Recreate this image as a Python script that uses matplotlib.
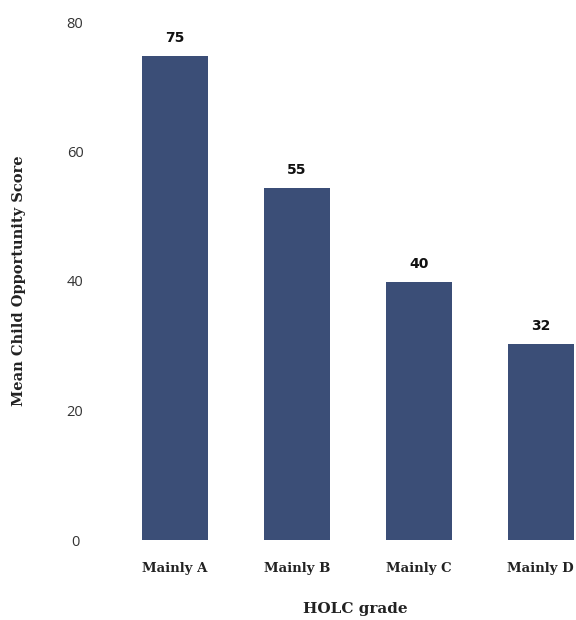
import matplotlib
matplotlib.use("Agg")
import matplotlib.pyplot as plt

grades = ["Mainly A", "Mainly B", "Mainly C", "Mainly D"]
scores = [74.7, 54.3, 39.8, 30.3]
score_labels = ["75", "55", "40", "32"]
yticks = [0, 20, 40, 60, 80]

bar_color = "#3b4e77"
serif = ["DejaVu Serif"]
sans = "Open Sans"

fig = plt.figure(figsize=(5.76, 6.2), dpi=100)
ax = fig.add_axes([100 / 576, 80 / 620, 476 / 576, 518 / 620])

x = range(len(grades))
bars = ax.bar(x, scores, width=0.54, color=bar_color)

# value labels above the bars
for b, lab in zip(bars, score_labels):
    ax.annotate(lab, (b.get_x() + b.get_width() / 2, b.get_height()),
                xytext=(0, 8), textcoords="offset points",
                ha="center", va="bottom", fontsize=10, fontweight="bold",
                family="DejaVu Sans", color="#111111")

ax.set_xlim(-0.616, 3.29)
ax.set_ylim(0, 80)
ax.set_yticks(yticks)
ax.set_yticklabels([str(t) for t in yticks], family=sans,
                   fontweight="normal", fontsize=10.5, color="#333333", ha="center")
ax.set_xticks(list(x))
ax.set_xticklabels(grades, family=serif, fontweight="bold", fontsize=9.5,
                   color="#222222")
ax.tick_params(axis="y", length=0, pad=18)
ax.tick_params(axis="x", length=0, pad=16)

for s in ax.spines.values():
    s.set_visible(False)

ax.set_ylabel("Mean Child Opportunity Score", family=serif, fontweight="bold",
              fontsize=10.5, color="#222222")
ax.set_xlabel("HOLC grade", family=serif, fontweight="bold", fontsize=11,
              color="#222222")
ax.xaxis.set_label_coords((355 - 100) / 476, -62 / 518)
ax.yaxis.set_label_coords(-74 / 476, 0.5)

fig.savefig("out.png", dpi=100)
